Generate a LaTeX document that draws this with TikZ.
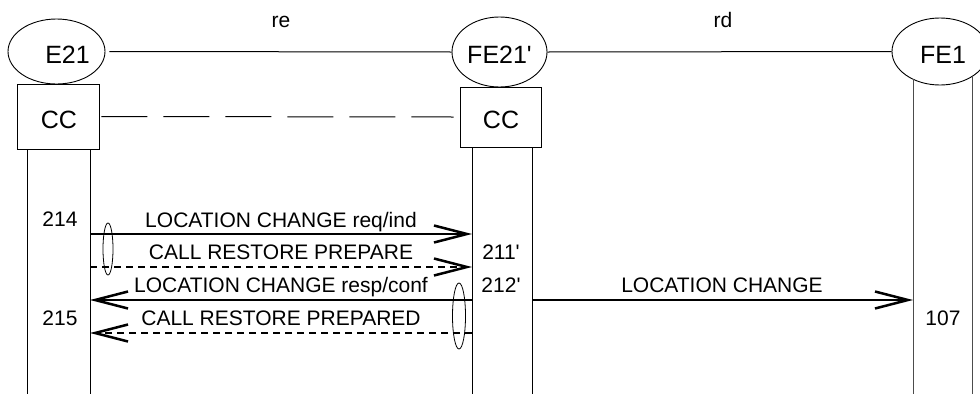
\documentclass[tikz,border=0pt]{standalone}
\usepackage{fontspec}
\setmainfont{Liberation Sans}
\usetikzlibrary{arrows.meta,shapes.geometric}
\begin{document}
\begin{tikzpicture}[x=1pt,y=-1pt,
  ent/.style={ellipse,draw,line width=0.9pt,inner sep=0pt},
  box/.style={rectangle,draw,line width=0.9pt,inner sep=0pt},
  big/.style={font=\fontsize{25}{30}\selectfont,anchor=base,inner sep=0pt},
  txt/.style={font=\fontsize{21}{25}\selectfont,anchor=base,inner sep=0pt},
  msg/.style={line width=2.5pt,-{Straight Barb[length=33pt,width=17pt]}},
  dmsg/.style={msg,dash pattern=on 7pt off 5pt},
  life/.style={line width=1pt},
  life2/.style={line width=1pt,black!70},
  grp/.style={ellipse,draw,line width=0.8pt,inner sep=0pt}]
\useasboundingbox (0,0) rectangle (980,394);
% entities
\node[ent,minimum width=97,minimum height=65] (e21) at (56.5,51.5) {};
\node[big] (e21t) at (67.5,63) {E21};
\node[ent,minimum width=95,minimum height=70] (fe21) at (499.5,52) {};
\node[big] (fe21t) at (499.5,63) {FE21\textquotesingle};
\node[ent,minimum width=96,minimum height=67] (fe1) at (940,51.5) {};
\node[big] (fe1t) at (943,63) {FE1};
\draw[life] ([xshift=4]e21.east) -- (fe21.west);
\draw[life] (fe21.east) -- (fe1.west);
\node[txt] (re) at (281,27) {re};
\node[txt] (rd) at (723,27) {rd};
% CC boxes
\node[box,minimum width=82,minimum height=65] (cc1) at (58,116.5) {};
\node[big] (cc1t) at (59,128) {CC};
\node[box,minimum width=81,minimum height=60] (cc2) at (500.5,117) {};
\node[big] (cc2t) at (501,128) {CC};
\draw[life,dash pattern=on 46pt off 16pt] ([xshift=2]cc1.east) -- ([xshift=-6]cc2.west);
% lifelines
\coordinate (l1a) at (27,150);  \coordinate (l1ab) at (27,394);
\coordinate (l1b) at (90,150);  \coordinate (l1bb) at (90,394);
\coordinate (l2a) at (472,147); \coordinate (l2ab) at (472,394);
\coordinate (l2b) at (532,147); \coordinate (l2bb) at (532,394);
\coordinate (l3a) at (913,79);  \coordinate (l3ab) at (913,394);
\coordinate (l3b) at (972,77);  \coordinate (l3bb) at (972,394);
\draw[life] (l1a) -- (l1ab);
\draw[life] (l1b) -- (l1bb);
\draw[life] (l2a) -- (l2ab);
\draw[life] (l2b) -- (l2bb);
\draw[life2] (l3a) -- (l3ab);
\draw[life2] (l3b) -- (l3bb);
% message rows
\coordinate (r1) at (0,234);
\coordinate (r2) at (0,267);
\coordinate (r3) at (0,300);
\coordinate (r4) at (0,333);
\draw[msg] (l1b |- r1) -- (l2a |- r1);
\draw[dmsg] (l1b |- r2) -- (l2a |- r2);
\draw[msg] (l2a |- r3) -- (l1b |- r3);
\draw[dmsg] (l2a |- r4) -- (l1b |- r4);
\draw[msg] (l2b |- r3) -- (l3a |- r3);
\node[txt] (m1) at (281,227) {LOCATION CHANGE req/ind};
\node[txt] (m2) at (281,259) {CALL RESTORE PREPARE};
\node[txt] (m3) at (281,292) {LOCATION CHANGE resp/conf};
\node[txt] (m4) at (281,325) {CALL RESTORE PREPARED};
\node[txt] (m5) at (722,292) {LOCATION CHANGE};
\node[txt] (n214) at (60,226) {214};
\node[txt] (n215) at (60,325) {215};
\node[txt] (n211) at (501,259) {211\textquotesingle};
\node[txt] (n212) at (501,292) {212\textquotesingle};
\node[txt] (n107) at (943,325) {107};
% grouping ellipses
\node[grp,minimum width=10,minimum height=52] (g1) at (108,249) {};
\node[grp,minimum width=13,minimum height=66] (g2) at (459,316) {};
\end{tikzpicture}
\end{document}
